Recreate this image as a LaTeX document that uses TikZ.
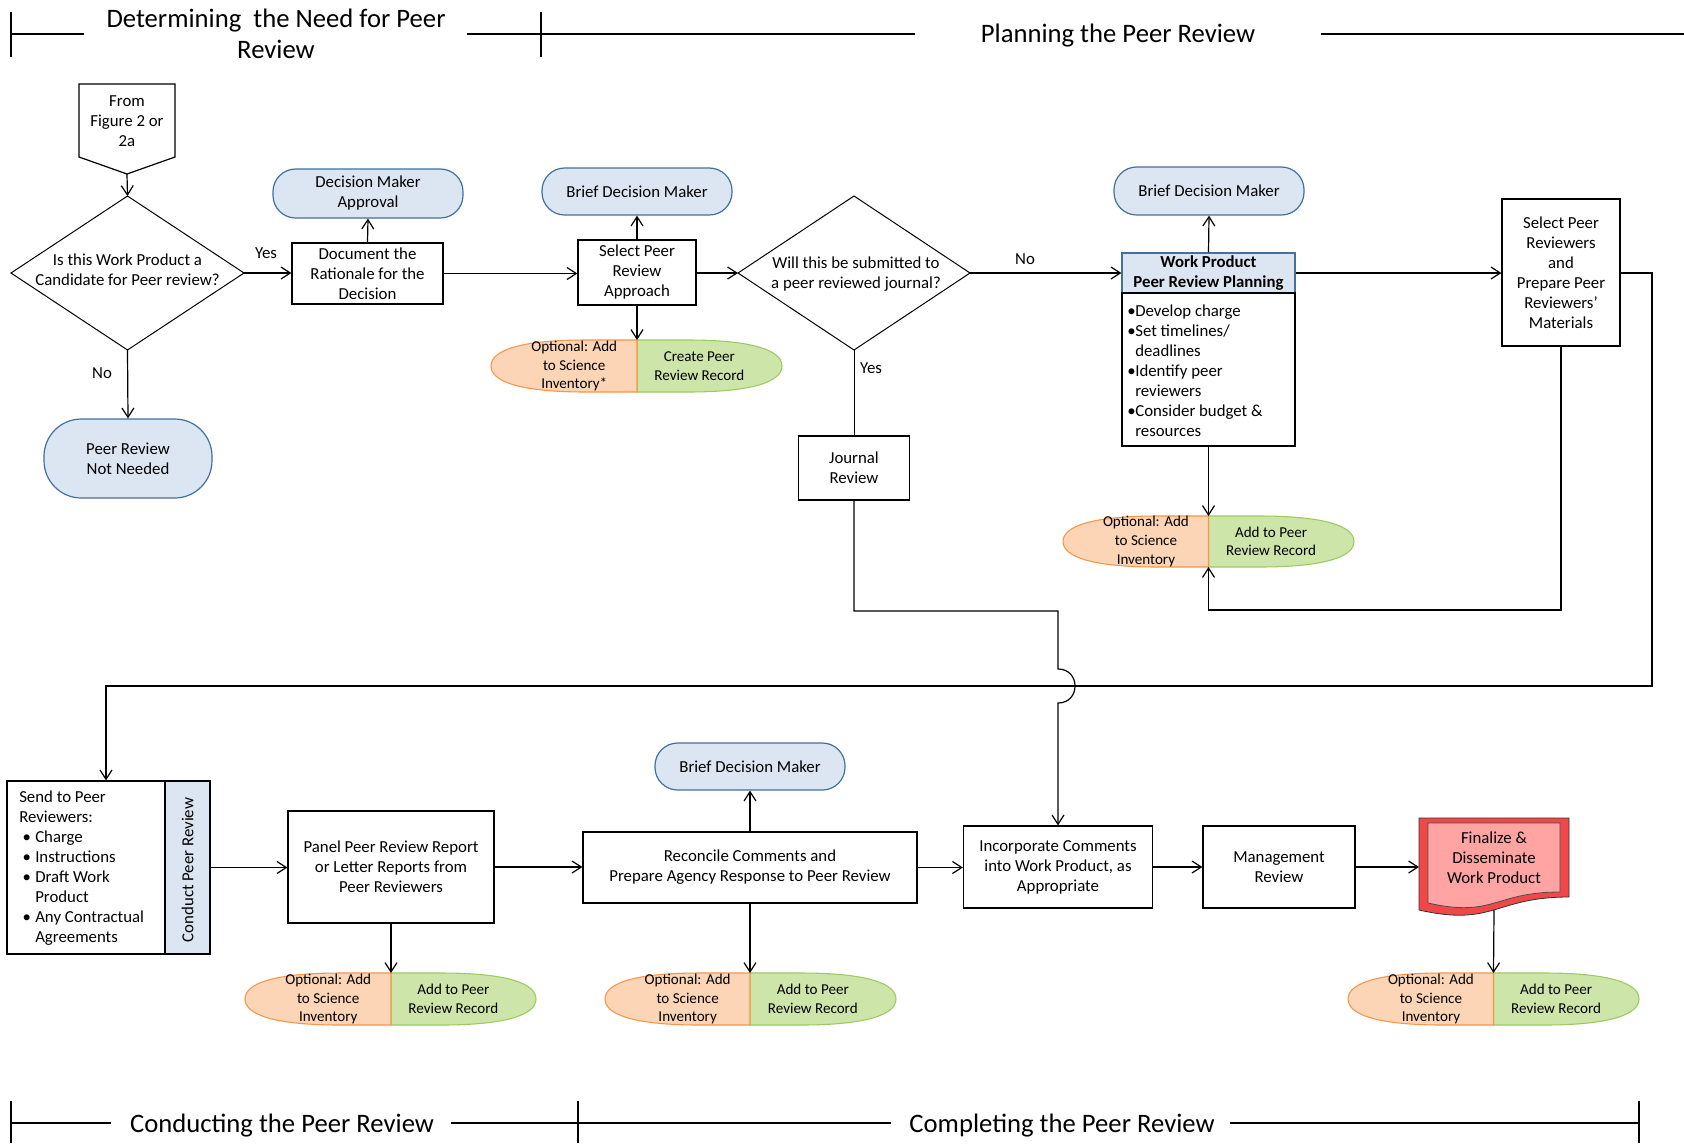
\documentclass[tikz,border=0pt]{standalone}
\usepackage{fontspec}
\setmainfont{Carlito}
\usetikzlibrary{arrows.meta}
\definecolor{pillblue}{HTML}{DCE6F2}
\definecolor{pillborder}{HTML}{41719C}
\definecolor{orgfill}{HTML}{FBD5B5}
\definecolor{orgline}{HTML}{F79646}
\definecolor{grnfill}{HTML}{CDE5A9}
\definecolor{grnline}{HTML}{9BCB5F}
\definecolor{redout}{HTML}{F04848}
\definecolor{redin}{HTML}{FFA3A3}
\newcommand\bodyf{\fontsize{12.6}{15}\selectfont}
\newcommand\smallf{\fontsize{11.3}{13.9}\selectfont}
\newcommand\titlef{\fontsize{20}{23.5}\selectfont}
\newcommand\blt{\makebox[12pt][l]{\hspace{2.5pt}\textbullet}}
\newcommand\wbl{\makebox[6pt][l]{\textbullet}}
\newcommand\splitpill[8]{%
  \coordinate (#1) at (#2,#3);
  \coordinate (#1b) at (#2,{#3+#6});
  \filldraw[fill=grnfill, draw=grnline, line width=0.8pt] (#2,#3) -- ({#2+0.35*#5},#3) .. controls ({#2+0.8*#5},#3) and ({#2+#5},{#3+0.2*#6}) .. ({#2+#5},{#3+0.5*#6}) .. controls ({#2+#5},{#3+0.8*#6}) and ({#2+0.8*#5},{#3+#6}) .. ({#2+0.35*#5},{#3+#6}) -- (#2,{#3+#6}) -- cycle;
  \filldraw[fill=orgfill, draw=orgline, line width=0.8pt] (#2,#3) -- ({#2-0.35*#4},#3) .. controls ({#2-0.8*#4},#3) and ({#2-#4},{#3+0.2*#6}) .. ({#2-#4},{#3+0.5*#6}) .. controls ({#2-#4},{#3+0.8*#6}) and ({#2-0.8*#4},{#3+#6}) .. ({#2-0.35*#4},{#3+#6}) -- (#2,{#3+#6}) -- cycle;
  \node[font=\smallf] (#1-l) at ({#2-0.43*#4},{#3+0.5*#6}) {#7};
  \node[font=\smallf] (#1-r) at ({#2+0.43*#5},{#3+0.5*#6}) {#8};
}
\begin{document}
\begin{tikzpicture}[x=0.75pt,y=-0.75pt,
  every node/.style={font=\bodyf, inner sep=0pt, align=center},
  box/.style 2 args={draw, line width=0.9pt, fill=white, minimum width=#1*0.75pt, minimum height=#2*0.75pt},
  pill/.style 2 args={draw=pillborder, fill=pillblue, line width=0.9pt, rounded corners=17pt, minimum width=#1*0.75pt, minimum height=#2*0.75pt},
  arr/.style={-{Straight Barb[length=7pt,width=9pt]}, line width=0.9pt},
  rule/.style={line width=0.9pt},
  dline/.style={line width=0.75pt},
  title/.style={font=\titlef},
]
\useasboundingbox (0,0) rectangle (1684,1143);
\fill[white] (0,0) rectangle (1684,1143);

% section titles
\node[title] (t1) at (276,34) {Determining~ the Need for Peer\\Review};
\node[title] (t2) at (1118,36) {Planning the Peer Review};
\node[title] (t3) at (282,1126) {Conducting the Peer Review};
\node[title] (t4) at (1062,1126) {Completing the Peer Review};
\draw[rule] (11,12) -- (11,57) (11,34) -- (84,34) (467,34) -- (915,34) (541,12) -- (541,57) (1321,34) -- (1684,34);
\draw[rule] (11,1101) -- (11,1143) (11,1123) -- (111,1123) (451,1123) -- (891,1123) (578,1101) -- (578,1143) (1230,1123) -- (1639,1123) (1639,1101) -- (1639,1143);

% off-page connector
\draw[line width=0.9pt, fill=white] (79,84) -- (175,84) -- (175,157) -- (127,174) -- (79,157) -- cycle;
\coordinate (fromtip) at (127,174);
\node (from) at (127,121) {From\\Figure 2 or\\2a};

% decision 1
\coordinate (d1t) at (127.5,196); \coordinate (d1r) at (244,273);
\coordinate (d1b) at (127.5,350); \coordinate (d1l) at (11,273);
\draw[dline] (d1t) -- (d1r) -- (d1b) -- (d1l) -- cycle;
\node (d1) at (127.5,270) {Is this Work Product a\\Candidate for Peer review?};

\node[pill={168}{79}, rounded corners=28pt] (nn) at (128,458.5) {Peer Review\\Not Needed};
\node[pill={190}{49}] (dma) at (368,193.5) {Decision Maker\\Approval};
\node[box={151}{61}] (doc) at (367.5,273.5) {Document the\\Rationale for the\\Decision};
\node[pill={190}{47}] (bdm1) at (637,191.5) {Brief Decision Maker};
\node[box={118}{65}] (spra) at (637,272.5) {Select Peer\\Review\\Approach};
\splitpill{sp1}{637}{340}{146}{145}{52}{Optional: Add\\to Science\\Inventory*}{Create Peer\\Review Record}

% decision 2
\coordinate (d2t) at (854,196); \coordinate (d2r) at (970,273);
\coordinate (d2b) at (854,350); \coordinate (d2l) at (738,273);
\draw[dline] (d2t) -- (d2r) -- (d2b) -- (d2l) -- cycle;
\node (d2) at (856,274) {Will this be submitted to\\a peer reviewed journal?};
\node[box={111}{64}] (jr) at (854,468) {Journal\\Review};

% work product planning
\node[box={173}{40}, fill=pillblue, draw=pillborder, font=\bfseries\bodyf] (wph) at (1208.5,273) {Work Product\\Peer Review Planning};
\node[box={173}{153}] (wpb) at (1208.5,369.5) {};
\node[anchor=west, align=left] (wpbt) at (1127,370.5) {\wbl Develop charge\\\wbl Set timelines/\\\hspace*{6pt}deadlines\\\wbl Identify peer\\\hspace*{6pt}reviewers\\\wbl Consider budget \&\\\hspace*{6pt}resources};
\node[pill={190}{48}] (bdm2) at (1209,191) {Brief Decision Maker};
\splitpill{sp2}{1208.5}{516}{145.5}{145.5}{51}{Optional: Add\\to Science\\Inventory}{Add to Peer\\Review Record}
\node[box={118}{147}] (sprm) at (1561,272.5) {Select Peer\\Reviewers\\and\\Prepare Peer\\Reviewers’\\Materials};

% bottom row
\node[box={203}{173}] (send) at (108.5,867.5) {};
\node[draw, line width=0.9pt, fill=pillblue, minimum width=45*0.75pt, minimum height=173*0.75pt] (cprbox) at (187.5,867.5) {};
\node[rotate=90] (cpr) at (187.5,870) {Conduct Peer Review};
\node[anchor=west, align=left] (sendt) at (19,868.5) {Send to Peer\\Reviewers:\\\blt Charge\\\blt Instructions\\\blt Draft Work\\\hspace*{12pt}Product\\\blt Any Contractual\\\hspace*{12pt}Agreements};
\node[box={206}{112}] (panel) at (391,867) {Panel Peer Review Report\\or Letter Reports from\\Peer Reviewers};
\splitpill{sp3}{391}{973}{146}{145}{52}{Optional: Add\\to Science\\Inventory}{Add to Peer\\Review Record}
\node[box={334}{71}] (rec) at (750,867.5) {Reconcile Comments and\\Prepare Agency Response to Peer Review};
\node[pill={190}{47}] (bdm3) at (750,766.5) {Brief Decision Maker};
\splitpill{sp4}{750}{973}{145}{146}{52}{Optional: Add\\to Science\\Inventory}{Add to Peer\\Review Record}
\node[box={189}{82}] (inc) at (1058,867) {Incorporate Comments\\into Work Product, as\\Appropriate};
\node[box={152}{82}] (mgmt) at (1279,867) {Management\\Review};

% finalize document shape
\filldraw[fill=redout, draw=black!80, line width=0.6pt] (1419,818) -- (1569,818) -- (1569,897) .. controls (1494,897) and (1494,927) .. (1419,910) -- cycle;
\filldraw[fill=redin, draw=black!70, line width=0.6pt] (1428,823) -- (1560,823) -- (1560,892) .. controls (1494,892) and (1494,918) .. (1428,903) -- cycle;
\coordinate (finl) at (1419,867); \coordinate (finb) at (1494,910);
\node (fin) at (1494,858) {Finalize \&\\Disseminate\\Work Product};
\splitpill{sp5}{1493.5}{973}{145.5}{145.5}{52}{Optional: Add\\to Science\\Inventory}{Add to Peer\\Review Record}

% connectors
\draw[arr] (fromtip) -- (d1t);
\draw[arr] (d1r) -- (d1r -| doc.west);
\node (yes1) at (266,253) {Yes};
\draw[arr] (d1b) -- (nn.north);
\node (no1) at (102,373) {No};
\draw[arr] (doc.north) -- (dma.south);
\draw[arr] (doc.east) -- (doc.east -| spra.west);
\draw[arr] (spra.north) -- (bdm1.south);
\draw[arr] (spra.south) -- (sp1);
\draw[arr] (spra.east |- d2l) -- (d2l);
\draw[arr] (d2r) -- (d2r -| wph.west);
\node (no2) at (1025,259) {No};
\draw[dline] (d2b) -- (jr.north);
\node (yes2) at (871,368) {Yes};
\draw[arr] (wph.north) -- (bdm2.south);
\draw[arr] (wpb.south) -- (sp2);
\draw[arr] (wph.east) -- (wph.east -| sprm.west);
\draw[arr] (sprm.south) -- (1561,610) -- (1208.5,610) -- (sp2b);
\draw[arr] (sprm.east |- wph.east) -- (1652,273) -- (1652,686) -- (106,686) -- (106,686 |- send.north);
\draw[arr] (jr.south) -- (854,611) -- (1058,611) -- (1058,669) .. controls (1080.7,669) and (1080.7,703) .. (1058,703) -- (inc.north);
\draw[arr] (send.east) -- (send.east -| panel.west);
\draw[arr] (panel.south) -- (sp3);
\draw[arr] (panel.east) -- (panel.east -| rec.west);
\draw[arr] (rec.north) -- (bdm3.south);
\draw[arr] (rec.south) -- (sp4);
\draw[arr] (rec.east) -- (rec.east -| inc.west);
\draw[arr] (inc.east) -- (mgmt.west);
\draw[arr] (mgmt.east) -- (finl);
\draw[arr] (finb) -- (sp5);
\end{tikzpicture}
\end{document}
